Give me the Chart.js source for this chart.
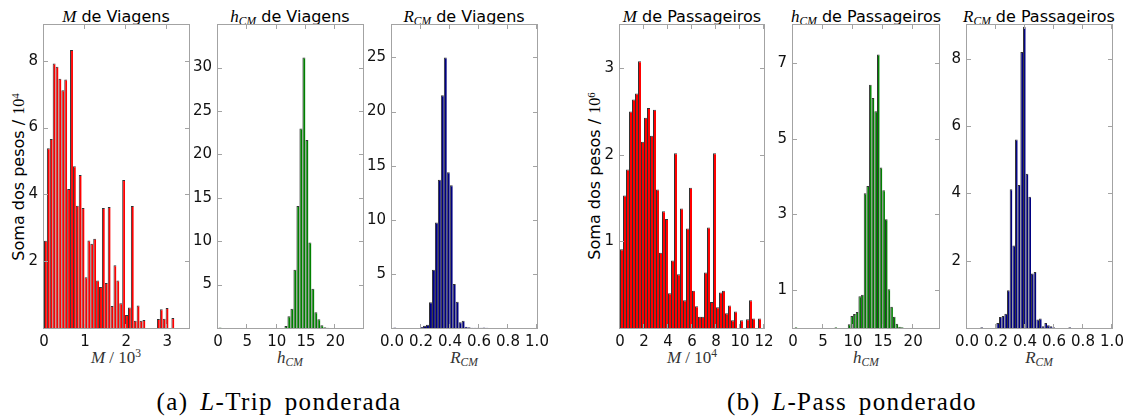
<!DOCTYPE html>
<html>
<head>
<meta charset="utf-8">
<script src="https://cdn.jsdelivr.net/npm/chart.js@4.4.1/dist/chart.umd.min.js"></script>
<style>
  html, body { margin: 0; padding: 0; background: #fff; }
  #fig { position: relative; width: 1129px; height: 418px; overflow: hidden; background: #fff; }
  #fig canvas { position: absolute; }
  .txt { position: absolute; white-space: nowrap; line-height: 1; color: #000; }
  .ttl { font-family: 'DejaVu Sans', sans-serif; font-size: 16px; transform: translateX(-50%); top: 8px; }
  .xl { font-family: 'Liberation Serif', serif; font-size: 17px; color: #333; transform: translateX(-50%); top: 349px; }
  .yl { font-family: 'DejaVu Sans', sans-serif; font-size: 16px; transform: translate(-50%, -50%) rotate(-90deg); }
  .cap { font-family: 'Liberation Serif', serif; font-size: 25px; letter-spacing: 1.4px; word-spacing: 4px; transform: translateX(-50%); top: 389px; }
  .m { font-family: 'Liberation Serif', serif; font-style: italic; font-size: 17px; }
  .sr { font-family: 'Liberation Serif', serif; }
  sub, sup { font-size: 68%; line-height: 0; position: relative; vertical-align: baseline; }
  sub { top: 0.3em; }
  sup { top: -0.5em; }
</style>
</head>
<body>
<div id="fig">
  <div class="txt ttl" style="left:116px"><span class="m">M</span> de Viagens</div>
  <div class="txt ttl" style="left:290px"><span class="m">h<sub>CM</sub></span> de Viagens</div>
  <div class="txt ttl" style="left:464px"><span class="m">R<sub>CM</sub></span> de Viagens</div>
  <div class="txt ttl" style="left:692px"><span class="m">M</span> de Passageiros</div>
  <div class="txt ttl" style="left:866px"><span class="m">h<sub>CM</sub></span> de Passageiros</div>
  <div class="txt ttl" style="left:1039px"><span class="m">R<sub>CM</sub></span> de Passageiros</div>

  <div class="txt yl" style="left:19px; top:177px">Soma dos pesos / <span class="sr">10<sup>4</sup></span></div>
  <div class="txt yl" style="left:595px; top:176px">Soma dos pesos / <span class="sr">10<sup>6</sup></span></div>

  <div class="txt xl" style="left:116px"><i>M</i> / 10<sup>3</sup></div>
  <div class="txt xl" style="left:290px"><i>h<sub>CM</sub></i></div>
  <div class="txt xl" style="left:464px"><i>R<sub>CM</sub></i></div>
  <div class="txt xl" style="left:692px"><i>M</i> / 10<sup>4</sup></div>
  <div class="txt xl" style="left:866px"><i>h<sub>CM</sub></i></div>
  <div class="txt xl" style="left:1039px"><i>R<sub>CM</sub></i></div>

  <div class="txt cap" style="left:279px">(a) <i>L</i>-Trip ponderada</div>
  <div class="txt cap" style="left:852px">(b) <i>L</i>-Pass ponderado</div>
</div>

<script>
// ---- Weighted histograms: bin start, bin width and summed weights per bin ----

// (a) L-Trip: M (units of 10^3), weights / 10^4
const tripMStart = 0, tripMWidth = 0.0705;
const tripM = [2.61, 5.38, 5.66, 7.92, 7.82, 7.46, 7.12, 7.44, 4.16, 8.32,
               4.84, 3.66, 4.58, 3.59, 1.52, 2.62, 2.52, 2.67, 1.42, 1.23,
               3.59, 1.35, 3.62, 0.66, 1.88, 1.42, 0.74, 4.43, 0.39, 0.61,
               3.65, 0.22, 0.67, 0.22, 0.24, 0, 0, 0, 0, 0.27,
               0.56, 0.28, 0.60, 0, 0.30];

// (a) L-Trip: h_CM
const tripHStart = 0.1, tripHWidth = 0.51;
const tripH = [0.05, 0, 0, 0, 0, 0, 0, 0, 0, 0,
               0, 0, 0, 0, 0, 0, 0, 0, 0, 0,
               0, 0, 0.23, 1.34, 2.22, 6.70, 14.06, 22.99, 31.15, 21.65,
               9.85, 4.52, 1.80, 1.00, 0.31, 0.08, 0.04];

// (a) L-Trip: R_CM
const tripRStart = 0.009, tripRWidth = 0.0205;
const tripR = [0.05, 0, 0, 0, 0, 0, 0, 0, 0, 0.10,
               0.20, 0.30, 2.37, 5.38, 9.75, 13.7, 21.5, 25.0, 14.4, 13.2,
               4.06, 2.43, 0.52, 0.68, 0.12, 0.06, 0.03, 0.03, 0.03, 0.03,
               0.04, 0.03];

// (b) L-Pass: M (units of 10^4), weights / 10^6
const passMStart = 0, passMWidth = 0.25;
const passM = [0.91, 1.53, 1.83, 2.50, 2.64, 2.71, 3.08, 2.15, 2.43, 2.54,
               2.22, 2.52, 1.60, 0.87, 1.35, 1.26, 0.40, 0.78, 2.02, 0.62,
               1.38, 0.32, 1.15, 1.62, 0.43, 0.25, 0.13, 0.13, 0.64, 1.16,
               0.30, 2.02, 0.24, 0.41, 0.43, 0.17, 0.26, 0.09, 0.19, 0,
               0.09, 0, 0.10, 0.32, 0.11, 0, 0.11];

// (b) L-Pass: h_CM
const passHStart = 0.28, passHWidth = 0.442;
const passH = [0.02, 0, 0, 0, 0, 0, 0, 0, 0, 0,
               0, 0, 0, 0, 0, 0.02, 0, 0, 0, 0,
               0.10, 0.32, 0.37, 0.42, 0.84, 0.88, 3.56, 3.75, 6.42, 6.07,
               5.72, 7.22, 4.24, 3.64, 2.87, 1.02, 0.56, 0.30, 0.11, 0.03,
               0.02];

// (b) L-Pass: R_CM
const passRStart = 0, passRWidth = 0.0184;
const passR = [0, 0, 0, 0, 0, 0.02, 0, 0, 0, 0,
               0, 0.15, 0.33, 0.36, 0.42, 1.12, 4.12, 2.45, 5.60, 4.25,
               8.20, 8.95, 4.58, 3.90, 1.62, 1.66, 0.25, 0.28, 0.05, 0.15,
               0.08, 0.05, 0.02, 0, 0, 0, 0, 0, 0.02];

// Axis ticks
const tripMXTicks = [0, 1, 2, 3],            tripMYTicks = [2, 4, 6, 8];
const tripHXTicks = [0, 5, 10, 15, 20],      tripHYTicks = [5, 10, 15, 20, 25, 30];
const tripRXTicks = [0, 0.2, 0.4, 0.6, 0.8, 1.0], tripRYTicks = [5, 10, 15, 20, 25];
const passMXTicks = [0, 2, 4, 6, 8, 10, 12], passMYTicks = [1, 2, 3];
const passHXTicks = [0, 5, 10, 15, 20],      passHYTicks = [1, 3, 5, 7];
const passRXTicks = [0, 0.2, 0.4, 0.6, 0.8, 1.0], passRYTicks = [2, 4, 6, 8];

// ---- drawing ----
const PAD_L = 45, PAD_T = 8, PAD_R = 22, PAD_B = 32;
const TICK_FONT = { family: 'DejaVu Sans', size: 15 };

// Box frame with inward tick marks on all four sides (drawn over the bars)
const frameTicks = {
  id: 'frameTicks',
  afterDatasetsDraw(chart) {
    const { ctx, chartArea: a, scales: { x, y } } = chart;
    ctx.save();
    ctx.strokeStyle = '#a3a3a3';
    ctx.lineWidth = 1;
    ctx.beginPath();
    x.ticks.forEach(t => {
      const p = Math.round(x.getPixelForValue(t.value)) - 0.5;
      ctx.moveTo(p, a.bottom); ctx.lineTo(p, a.bottom - 4);
      ctx.moveTo(p, a.top); ctx.lineTo(p, a.top + 4);
    });
    y.ticks.forEach(t => {
      const p = Math.round(y.getPixelForValue(t.value)) + 0.5;
      ctx.moveTo(a.left, p); ctx.lineTo(a.left + 4, p);
      ctx.moveTo(a.right, p); ctx.lineTo(a.right - 4, p);
    });
    ctx.stroke();
    ctx.strokeRect(a.left - 0.5, a.top - 0.5, a.right - a.left + 1, a.bottom - a.top + 1);
    ctx.restore();
  }
};

function binPoints(values, start, width) {
  return values.map((v, i) => ({ x: start + width * (i + 0.5), y: v === 0 ? null : v }));
}

function panel(box, values, start, width, color, xMax, yMax, xTicks, yTicks, decimals) {
  const cv = document.createElement('canvas');
  const w = (box.r - box.l) + PAD_L + PAD_R;
  const h = (box.b - box.t) + PAD_T + PAD_B;
  cv.width = w; cv.height = h;
  cv.style.left = (box.l - PAD_L) + 'px';
  cv.style.top = (box.t - PAD_T) + 'px';
  cv.style.width = w + 'px'; cv.style.height = h + 'px';
  document.getElementById('fig').appendChild(cv);

  new Chart(cv, {
    type: 'bar',
    data: {
      datasets: [{
        data: binPoints(values, start, width),
        backgroundColor: color,
        borderColor: 'rgba(0,0,0,0.8)',
        borderWidth: { top: 1, left: 1, right: 0, bottom: 0 },
        borderSkipped: 'start',
        inflateAmount: 0,
        barPercentage: 1,
        categoryPercentage: 1
      }]
    },
    options: {
      responsive: false,
      animation: false,
      devicePixelRatio: 1,
      events: [],
      layout: { padding: { left: 0, top: PAD_T, right: PAD_R, bottom: 0 } },
      plugins: { legend: { display: false }, tooltip: { enabled: false }, title: { display: false } },
      scales: {
        x: {
          type: 'linear', min: 0, max: xMax, offset: false,
          grid: { display: false, drawTicks: false }, border: { display: false },
          ticks: {
            padding: 5, font: TICK_FONT, color: '#111', maxRotation: 0, autoSkip: false,
            callback: v => v.toFixed(decimals)
          },
          afterBuildTicks: s => { s.ticks = xTicks.map(v => ({ value: v })); },
          afterFit: s => { s.height = PAD_B; s.paddingLeft = 0; s.paddingRight = 0; }
        },
        y: {
          type: 'linear', min: 0, max: yMax,
          grid: { display: false, drawTicks: false }, border: { display: false },
          ticks: { padding: 6, font: TICK_FONT, color: '#111', autoSkip: false, callback: v => String(v) },
          afterBuildTicks: s => { s.ticks = yTicks.map(v => ({ value: v })); },
          afterFit: s => { s.width = PAD_L; s.paddingTop = 0; s.paddingBottom = 0; }
        }
      }
    },
    plugins: [frameTicks]
  });
}

const RED = '#ff0000', GREEN = '#008000', NAVY = '#000080';

panel({ l: 44,  r: 189,  t: 25, b: 328 }, tripM, tripMStart, tripMWidth, RED,   3.53, 9.07, tripMXTicks, tripMYTicks, 0);
panel({ l: 218, r: 363,  t: 25, b: 328 }, tripH, tripHStart, tripHWidth, GREEN, 24.7, 34.9, tripHXTicks, tripHYTicks, 0);
panel({ l: 392, r: 537,  t: 25, b: 328 }, tripR, tripRStart, tripRWidth, NAVY,  1.0,  28.0, tripRXTicks, tripRYTicks, 1);
panel({ l: 620, r: 764,  t: 25, b: 328 }, passM, passMStart, passMWidth, RED,   12.0, 3.5,  passMXTicks, passMYTicks, 0);
panel({ l: 793, r: 939,  t: 25, b: 328 }, passH, passHStart, passHWidth, GREEN, 24.3, 8.0,  passHXTicks, passHYTicks, 0);
panel({ l: 967, r: 1112, t: 25, b: 328 }, passR, passRStart, passRWidth, NAVY,  1.0,  9.0,  passRXTicks, passRYTicks, 1);
</script>
</body>
</html>
